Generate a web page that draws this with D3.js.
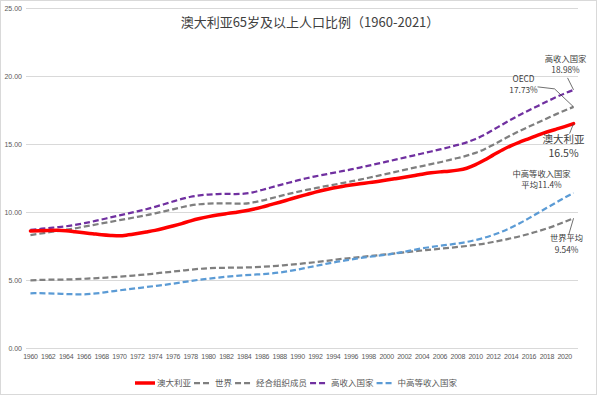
<!DOCTYPE html>
<html>
<head>
<meta charset="utf-8">
<script src="https://cdn.jsdelivr.net/npm/d3@7"></script>
<style>
  html, body { margin: 0; padding: 0; background: #fff; }
  svg { display: block; }
  text { font-family: "Liberation Sans", "Noto Sans CJK SC", sans-serif; }
  .cjk { font-family: "Noto Sans CJK SC", sans-serif; }
</style>
</head>
<body>
<div id="chart"></div>
<script>
// years 1960-2021
const years = d3.range(1960, 2022);

const australia = [
  8.60, 8.62, 8.64, 8.65, 8.62, 8.55, 8.47, 8.40, 8.33, 8.28,
  8.25, 8.32, 8.42, 8.53, 8.65, 8.80, 8.97, 9.15, 9.35, 9.52,
  9.66, 9.78, 9.88, 9.97, 10.07, 10.20, 10.36, 10.54, 10.72, 10.91,
  11.10, 11.28, 11.46, 11.62, 11.76, 11.88, 11.98, 12.07, 12.16, 12.25,
  12.35, 12.45, 12.55, 12.66, 12.78, 12.88, 12.95, 13.00, 13.08, 13.22,
  13.48, 13.82, 14.20, 14.56, 14.88, 15.15, 15.40, 15.65, 15.88, 16.08,
  16.28, 16.50
];
const world = [
  4.98, 5.00, 5.02, 5.03, 5.04, 5.06, 5.09, 5.12, 5.16, 5.20,
  5.24, 5.29, 5.35, 5.41, 5.48, 5.55, 5.62, 5.69, 5.76, 5.82,
  5.86, 5.89, 5.90, 5.91, 5.92, 5.94, 5.97, 6.01, 6.06, 6.11,
  6.17, 6.24, 6.31, 6.39, 6.47, 6.55, 6.62, 6.69, 6.75, 6.82,
  6.89, 6.96, 7.03, 7.10, 7.17, 7.24, 7.30, 7.36, 7.43, 7.50,
  7.58, 7.68, 7.80, 7.93, 8.07, 8.22, 8.39, 8.58, 8.79, 9.02,
  9.28, 9.54
];
const oecd = [
  8.30, 8.40, 8.50, 8.60, 8.70, 8.80, 8.92, 9.04, 9.16, 9.28,
  9.40, 9.52, 9.64, 9.76, 9.90, 10.05, 10.20, 10.35, 10.48, 10.57,
  10.62, 10.64, 10.64, 10.62, 10.62, 10.70, 10.84, 11.00, 11.17, 11.33,
  11.48, 11.62, 11.75, 11.88, 12.00, 12.12, 12.25, 12.38, 12.52, 12.66,
  12.80, 12.95, 13.10, 13.24, 13.38, 13.52, 13.66, 13.82, 13.97, 14.14,
  14.35, 14.62, 14.95, 15.30, 15.65, 15.98, 16.28, 16.58, 16.88, 17.18,
  17.46, 17.73
];
const highIncome = [
  8.68, 8.75, 8.82, 8.88, 8.95, 9.05, 9.17, 9.30, 9.45, 9.60,
  9.75, 9.90, 10.05, 10.20, 10.38, 10.57, 10.77, 10.96, 11.12, 11.22,
  11.28, 11.32, 11.33, 11.32, 11.35, 11.45, 11.62, 11.80, 11.98, 12.15,
  12.32, 12.48, 12.62, 12.75, 12.88, 13.00, 13.13, 13.27, 13.41, 13.55,
  13.70, 13.85, 14.00, 14.15, 14.30, 14.45, 14.60, 14.76, 14.93, 15.12,
  15.37, 15.68, 16.05, 16.43, 16.80, 17.15, 17.48, 17.80, 18.12, 18.43,
  18.72, 18.98
];
const upperMiddle = [
  4.02, 4.03, 4.02, 4.00, 3.97, 3.95, 3.95, 3.99, 4.06, 4.15,
  4.24, 4.32, 4.40, 4.48, 4.56, 4.64, 4.73, 4.83, 4.93, 5.02,
  5.10, 5.17, 5.24, 5.30, 5.35, 5.39, 5.43, 5.48, 5.55, 5.65,
  5.77, 5.90, 6.03, 6.16, 6.29, 6.40, 6.51, 6.61, 6.70, 6.78,
  6.86, 6.96, 7.08, 7.21, 7.33, 7.43, 7.52, 7.60, 7.69, 7.80,
  7.94, 8.11, 8.32, 8.57, 8.86, 9.19, 9.55, 9.93, 10.31, 10.68,
  11.05, 11.40
];

const seriesNames = ["澳大利亚", "世界", "经合组织成员", "高收入国家", "中高等收入国家"];
const seriesValues = [australia, world, oecd, highIncome, upperMiddle];
const yTicks = [0, 5, 10, 15, 20, 25];

// end-of-line callouts: [series index, line 1, line 2]
const callouts = [
  [3, "高收入国家", "18.98%"],
  [2, "OECD", "17.73%"],
  [0, "澳大利亚", "16.5%"],
  [4, "中高等收入国家", "平均11.4%"],
  [1, "世界平均", "9.54%"]
];

const styles = [
  { color: "#ff0000", width: 3.5, dash: null },
  { color: "#7f7f7f", width: 2.25, dash: "6,3" },
  { color: "#7f7f7f", width: 2.25, dash: "6,3" },
  { color: "#7030a0", width: 2.25, dash: "6,3" },
  { color: "#5b9bd5", width: 2.25, dash: "6,3" }
];

const width = 600, height = 397;
const margin = { left: 26, right: 22, top: 8, bottom: 49 };

const svg = d3.select("#chart").append("svg")
  .attr("width", width)
  .attr("height", height);

// chart frame
svg.append("rect")
  .attr("x", 0.5).attr("y", 0.5)
  .attr("width", width - 4).attr("height", height - 3)
  .attr("fill", "#fff")
  .attr("stroke", "#d9d9d9");

const x = d3.scaleBand()
  .domain(years)
  .range([margin.left, width - margin.right]);
const xc = d => x(d) + x.bandwidth() / 2;

const y = d3.scaleLinear()
  .domain([0, 25])
  .range([height - margin.bottom, margin.top]);

// gridlines + y labels
const yAxis = d3.axisLeft(y)
  .tickValues(yTicks)
  .tickSize(-(width - margin.left - margin.right))
  .tickPadding(4)
  .tickFormat(d3.format(".2f"));

svg.append("g")
  .attr("transform", `translate(${margin.left},0)`)
  .call(yAxis)
  .call(g => g.select(".domain").remove())
  .call(g => g.selectAll("line").attr("stroke", "#d9d9d9"))
  .call(g => g.selectAll("text")
    .attr("fill", "#595959")
    .style("font-size", "7px"));

// x labels every other year
const xAxis = d3.axisBottom(x)
  .tickValues(years.filter(d => d % 2 === 0))
  .tickSize(0)
  .tickPadding(6);

svg.append("g")
  .attr("transform", `translate(0,${y(0)})`)
  .call(xAxis)
  .call(g => g.select(".domain").remove())
  .call(g => g.selectAll("text")
    .attr("fill", "#595959")
    .style("font-size", "7px")
    .style("letter-spacing", "-0.3px"));

// title
svg.append("text")
  .attr("class", "cjk")
  .attr("x", 310)
  .attr("y", 27)
  .attr("text-anchor", "middle")
  .attr("fill", "#404040")
  .style("font-size", "13px")
  .text("澳大利亚65岁及以上人口比例（1960-2021）");

// lines
const line = d3.line()
  .x((d, i) => xc(years[i]))
  .y(d => y(d))
  .curve(d3.curveMonotoneX);

const drawOrder = [1, 2, 3, 4, 0];
drawOrder.forEach(i => {
  svg.append("path")
    .datum(seriesValues[i])
    .attr("d", line)
    .attr("fill", "none")
    .attr("stroke", styles[i].color)
    .attr("stroke-width", styles[i].width)
    .attr("stroke-dasharray", styles[i].dash)
    .attr("stroke-linecap", styles[i].dash ? "butt" : "round");
});

// callouts
const last = years.length - 1;
const calloutPos = {
  3: { dx: -8, dy: -28, big: false, leader: [[-6, -12], [0, 0]] },
  2: { dx: -50, dy: -25, big: false, leader: [[-36, -20], [-19, -18], [0, 0]] },
  0: { dx: -10, dy: 19, big: true, leader: [[-4, 10], [0, 0]] },
  4: { dx: -32, dy: -16, big: false, leader: null },
  1: { dx: -7, dy: 23, big: false, leader: [[-5, 17], [0, 0]] }
};
callouts.forEach(([si, l1, l2]) => {
  const px = xc(years[last]);
  const py = y(seriesValues[si][last]);
  const p = calloutPos[si];
  if (p.leader) {
    svg.append("path")
      .attr("d", d3.line()(p.leader.map(([a, b]) => [px + a, py + b])))
      .attr("fill", "none")
      .attr("stroke", "#404040")
      .attr("stroke-width", 0.75);
  }
  const fs = p.big ? 10.5 : 8.3;
  const g = svg.append("text")
    .attr("class", "cjk")
    .attr("text-anchor", "middle")
    .attr("fill", "#404040")
    .style("font-size", fs + "px");
  g.append("tspan")
    .attr("x", px + p.dx)
    .attr("y", py + p.dy)
    .text(l1);
  g.append("tspan")
    .attr("x", px + p.dx)
    .attr("y", py + p.dy + (p.big ? 14 : 11.5))
    .text(l2);
});

// legend
const legend = svg.append("g").attr("transform", "translate(135,383)");
let lx = 0;
seriesNames.forEach((name, i) => {
  legend.append("line")
    .attr("x1", lx).attr("x2", lx + (i === 0 ? 20 : 16))
    .attr("y1", 0).attr("y2", 0)
    .attr("stroke", styles[i].color)
    .attr("stroke-width", styles[i].width)
    .attr("stroke-dasharray", styles[i].dash);
  lx += (i === 0 ? 22 : 21);
  const t = legend.append("text")
    .attr("class", "cjk")
    .attr("x", lx)
    .attr("y", 3)
    .attr("fill", "#595959")
    .style("font-size", "8.5px")
    .text(name);
  lx += t.node().getComputedTextLength() + 3;
});
</script>
</body>
</html>
